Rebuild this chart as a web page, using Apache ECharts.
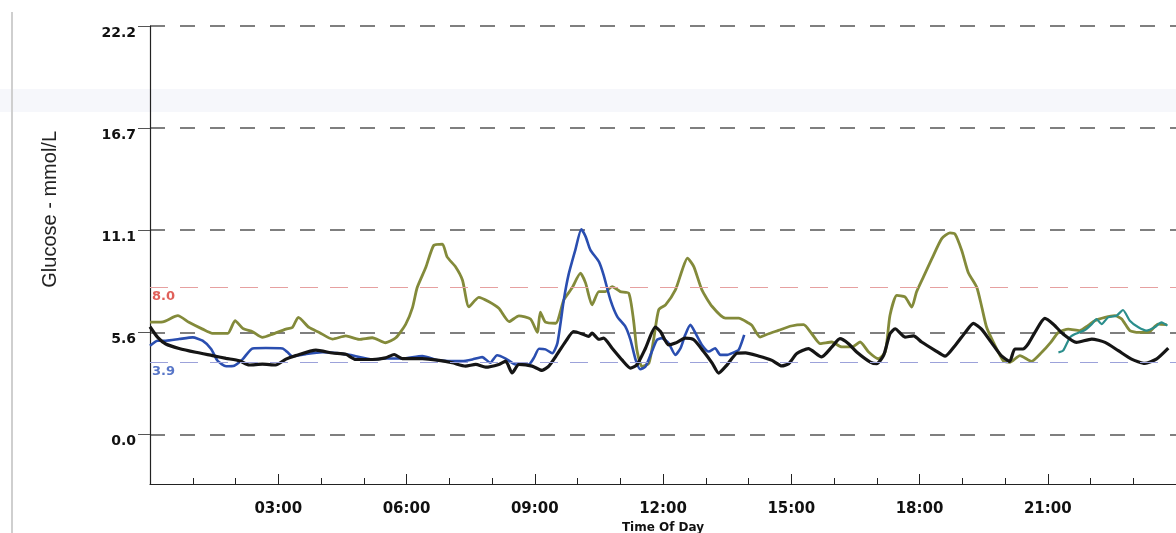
<!DOCTYPE html>
<html>
<head>
<meta charset="utf-8">
<script src="https://cdn.jsdelivr.net/npm/echarts@6/dist/echarts.min.js"></script>
<style>
html,body{margin:0;padding:0;background:#fff;}
#chart{width:1176px;height:533px;}
</style>
</head>
<body>
<div id="chart"></div>
<script>
// ---- Data (hours of day, glucose mmol/L) ----
const yTickValues = [0, 5.55, 11.1, 16.65, 22.2];
const yTickLabels = ['0.0', '5.6', '11.1', '16.7', '22.2'];
const xTickHours = [3, 6, 9, 12, 15, 18, 21];
const xTickLabels = ['03:00', '06:00', '09:00', '12:00', '15:00', '18:00', '21:00'];
const thresholdValues = [8.0, 3.9];
const thresholdLabels = ['8.0', '3.9'];

const oliveHours = [0.0,0.3,0.65,0.91,1.23,1.46,1.82,1.99,2.17,2.4,2.63,2.87,3.18,3.33,3.47,3.72,3.96,4.27,4.58,4.89,5.2,5.51,5.75,5.98,6.14,6.25,6.45,6.64,6.84,6.95,7.15,7.31,7.46,7.69,7.93,8.16,8.4,8.63,8.9,9.06,9.13,9.25,9.49,9.68,9.87,10.07,10.19,10.34,10.5,10.65,10.81,11.0,11.2,11.31,11.39,11.51,11.67,11.78,11.9,12.06,12.29,12.45,12.57,12.72,12.91,13.15,13.46,13.77,14.0,14.08,14.27,14.47,14.7,15.0,15.29,15.48,15.68,15.95,16.18,16.42,16.61,16.81,17.04,17.2,17.31,17.47,17.66,17.82,17.93,18.09,18.29,18.52,18.71,18.83,18.99,19.14,19.34,19.45,19.57,19.73,19.96,20.11,20.35,20.62,20.86,21.07,21.25,21.48,21.75,21.94,22.1,22.34,22.57,22.73,22.92,23.12,23.35,23.58,23.78];
const oliveValues = [6.1,6.12,6.45,6.09,5.72,5.49,5.49,6.18,5.76,5.58,5.27,5.45,5.72,5.81,6.36,5.81,5.54,5.18,5.35,5.16,5.25,4.98,5.25,5.98,6.89,7.98,9.07,10.28,10.34,9.65,9.1,8.38,6.93,7.45,7.21,6.85,6.13,6.44,6.27,5.55,6.64,6.1,6.04,7.31,7.95,8.76,8.22,7.04,7.76,7.76,8.03,7.76,7.67,6.22,4.59,3.68,3.87,5.14,6.77,7.04,7.85,8.94,9.58,9.12,7.85,6.95,6.32,6.32,6.05,5.92,5.29,5.47,5.65,5.89,5.96,5.47,4.93,5.02,4.75,4.75,5.02,4.48,4.11,4.48,6.47,7.55,7.47,6.92,7.74,8.55,9.55,10.64,10.95,10.89,9.98,8.8,7.99,6.99,5.82,5.0,4.0,3.91,4.28,3.97,4.46,5.0,5.54,5.72,5.64,5.91,6.18,6.36,6.45,6.27,5.64,5.54,5.54,5.99,5.96];

const blackHours = [0.0,0.18,0.37,0.68,1.07,1.46,1.78,2.09,2.32,2.63,2.94,3.18,3.41,3.88,4.27,4.58,4.81,5.2,5.51,5.71,5.9,6.37,6.76,7.07,7.38,7.62,7.85,8.16,8.32,8.47,8.63,8.94,9.17,9.33,9.49,9.72,9.91,10.11,10.26,10.34,10.5,10.61,10.81,11.04,11.24,11.39,11.59,11.82,11.94,12.13,12.29,12.52,12.72,12.95,13.15,13.3,13.5,13.73,13.93,14.23,14.55,14.78,14.94,15.13,15.4,15.71,15.95,16.14,16.34,16.53,16.85,17.0,17.16,17.31,17.43,17.66,17.86,18.05,18.36,18.6,18.83,19.07,19.26,19.45,19.68,19.91,20.11,20.23,20.42,20.54,20.7,20.93,21.13,21.36,21.67,22.03,22.34,22.65,22.96,23.27,23.54,23.82];
const blackValues = [5.85,5.27,4.91,4.67,4.46,4.28,4.13,4.0,3.77,3.82,3.77,4.09,4.28,4.58,4.42,4.35,4.07,4.07,4.16,4.34,4.12,4.12,4.02,3.89,3.71,3.8,3.65,3.8,3.98,3.34,3.8,3.71,3.48,3.71,4.23,5.04,5.59,5.46,5.32,5.5,5.17,5.23,4.68,4.05,3.6,3.78,4.68,5.83,5.59,4.86,4.96,5.23,5.14,4.5,3.87,3.33,3.78,4.41,4.43,4.26,4.02,3.72,3.84,4.39,4.66,4.21,4.75,5.2,4.93,4.48,3.93,3.84,4.29,5.47,5.74,5.29,5.35,5.02,4.57,4.25,4.82,5.54,6.03,5.72,5.0,4.28,3.97,4.64,4.64,4.91,5.54,6.3,5.99,5.45,5.0,5.18,5.0,4.55,4.09,3.86,4.09,4.69];

const blueHours = [0.0,0.18,0.37,0.68,1.0,1.23,1.43,1.58,1.78,1.97,2.17,2.4,2.71,3.1,3.22,3.33,3.64,4.03,4.42,4.7,4.81,5.2,5.51,5.9,6.37,6.76,7.07,7.3,7.54,7.77,7.96,8.12,8.32,8.55,8.86,8.98,9.1,9.25,9.41,9.53,9.68,9.79,9.95,10.09,10.19,10.3,10.5,10.61,10.77,10.93,11.12,11.24,11.36,11.47,11.59,11.74,11.86,11.97,12.13,12.29,12.41,12.52,12.64,12.76,12.91,13.07,13.22,13.34,13.5,13.65,13.77,13.9];
const blueValues = [4.82,5.09,5.09,5.18,5.27,5.09,4.64,4.0,3.7,3.73,4.09,4.67,4.69,4.67,4.46,4.24,4.36,4.46,4.4,4.31,4.25,4.07,4.12,4.12,4.25,4.02,3.98,3.98,4.07,4.2,3.89,4.3,4.12,3.8,3.8,4.16,4.65,4.62,4.41,4.96,7.31,8.67,10.03,11.15,10.75,10.03,9.39,8.67,7.31,6.4,5.86,5.14,4.05,3.54,3.68,4.5,5.14,5.23,4.96,4.32,4.68,5.41,5.95,5.5,4.86,4.5,4.68,4.32,4.32,4.45,4.59,5.41];

const tealHours = [21.25,21.36,21.52,21.64,21.87,22.03,22.14,22.26,22.41,22.61,22.76,22.92,23.12,23.31,23.5,23.66,23.8];
const tealValues = [4.46,4.55,5.27,5.45,5.67,5.99,6.27,5.99,6.36,6.45,6.76,6.18,5.82,5.64,5.82,6.09,5.91];

function pairs(h, v) { return h.map((x, i) => [x, v[i]]); }

const chart = echarts.init(document.getElementById('chart'));
const FONT = '"Liberation Sans", Arial, sans-serif';
const BFONT = '"DejaVu Sans", "Liberation Sans", sans-serif';

function lineSeries(name, h, v, color, width) {
  return {
    name: name, type: 'line', data: pairs(h, v), showSymbol: false, symbol: 'none',
    smooth: 0.2, lineStyle: { color: color, width: width }, z: 3
  };
}

const series = [
  lineSeries('olive', oliveHours, oliveValues, '#838a3a', 2.8),
  lineSeries('blue', blueHours, blueValues, '#2a4eb0', 2.6),
  lineSeries('teal', tealHours, tealValues, '#2b8e8c', 2.2),
  lineSeries('black', blackHours, blackValues, '#151515', 3.2)
];
series[3].z = 4;
series[0].markLine = {
  silent: true, symbol: 'none', animation: false,
  data: [
    { yAxis: thresholdValues[0], lineStyle: { color: '#e6a0a0', width: 1.2, type: [18, 12] },
      label: { show: true, position: 'insideStartBottom', formatter: thresholdLabels[0], color: '#e0605a', fontSize: 13, fontWeight: 'bold', fontFamily: BFONT, distance: [2, 3] } },
    { yAxis: thresholdValues[1], lineStyle: { color: '#9ca2da', width: 1.2, type: [18, 12] },
      label: { show: true, position: 'insideStartBottom', formatter: thresholdLabels[1], color: '#5876c8', fontSize: 13, fontWeight: 'bold', fontFamily: BFONT, distance: [2, 3] } }
  ]
};

chart.setOption({
  animation: false,
  backgroundColor: '#ffffff',
  grid: { left: 150, right: 0, top: 26, bottom: 49, containLabel: false, outerBoundsMode: 'none' },
  graphic: [
    { type: 'rect', z: -10, shape: { x: 0, y: 89, width: 1176, height: 23 }, style: { fill: '#f6f7fb' } },
    { type: 'line', z: -5, shape: { x1: 12, y1: 12, x2: 12, y2: 533 }, style: { stroke: '#cfcfcf', lineWidth: 2 } },
    { type: 'text', left: 40, top: 131, rotation: Math.PI / 2,
      style: { text: 'Glucose - mmol/L', fill: '#222', font: '20px ' + FONT } }
  ],
  xAxis: {
    type: 'value', min: 0, max: 24, interval: 3,
    name: 'Time Of Day', nameLocation: 'middle', nameGap: 27,
    nameTextStyle: { color: '#111', fontSize: 12, fontWeight: 'bold', fontFamily: BFONT },
    axisLine: { show: true, onZero: false, lineStyle: { color: '#222', width: 1.2 } },
    axisTick: { show: true, inside: true, length: 10, lineStyle: { color: '#222' } },
    minorTick: { show: true, splitNumber: 3, length: 6, lineStyle: { color: '#222' } },
    splitLine: { show: false },
    axisLabel: {
      showMinLabel: false, showMaxLabel: false, margin: 18,
      color: '#111', fontSize: 15, fontWeight: 'bold', fontFamily: BFONT,
      formatter: function (v) { const i = xTickHours.indexOf(v); return i >= 0 ? xTickLabels[i] : ''; }
    }
  },
  yAxis: {
    type: 'value', min: -2.7, max: 22.2,
    axisLine: { show: true, onZero: false, lineStyle: { color: '#222', width: 1.2 } },
    axisTick: { show: true, length: 12, customValues: yTickValues, lineStyle: { color: '#555' } },
    splitLine: { show: true, lineStyle: { color: '#555', width: 1.5, type: [15, 15] } },
    axisLabel: {
      customValues: yTickValues, margin: 14,
      color: '#111', fontSize: 14, fontWeight: 'bold', fontFamily: BFONT,
      verticalAlign: 'top',
      formatter: function (v) {
        let best = 0;
        yTickValues.forEach((t, i) => { if (Math.abs(t - v) < Math.abs(yTickValues[best] - v)) best = i; });
        return yTickLabels[best];
      }
    }
  },
  series: series
});
</script>
</body>
</html>
